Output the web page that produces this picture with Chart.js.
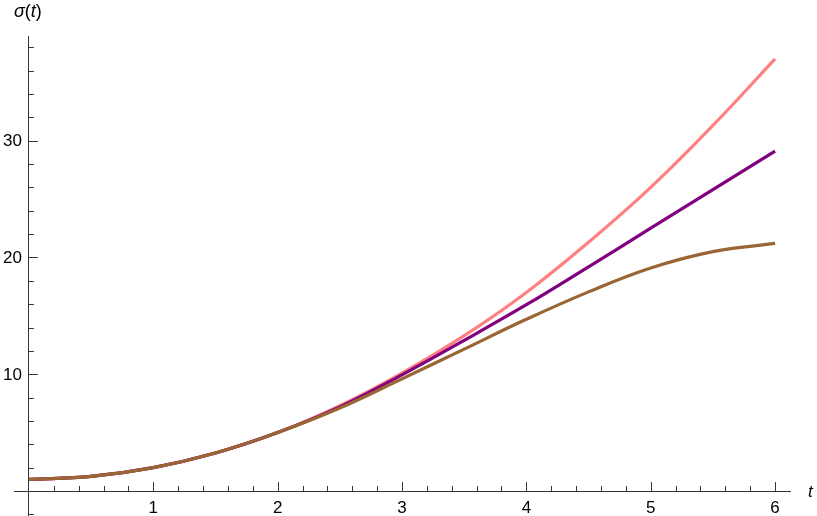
<!DOCTYPE html>
<html><head><meta charset="utf-8">
<script src="https://cdn.jsdelivr.net/npm/chart.js@4"></script>
<style>html,body{margin:0;padding:0;background:#fff}#wrap{width:817px;height:516px;position:relative}</style>
</head><body><div id="wrap"><canvas id="c" width="817" height="516"></canvas></div>
<script>
// ---- data ----
const tValues      = [0, 0.5, 1, 1.5, 2, 2.5, 3, 3.5, 4, 4.5, 5, 5.5, 6];
const sigmaPink    = [1, 1.25, 2, 3.25, 5, 7.3, 10.1, 13.3, 17.0, 21.3, 26.0, 31.3, 37.0];
const sigmaPurple  = [1, 1.25, 2, 3.25, 5, 7.2, 9.95, 12.9, 15.95, 19.2, 22.5, 25.8, 29.1];
const sigmaBrown   = [1, 1.25, 2, 3.25, 5, 7.1, 9.6, 12.15, 14.7, 17.05, 19.1, 20.5, 21.2];
const xTickLabels  = [1, 2, 3, 4, 5, 6];
const yTickLabels  = [10, 20, 30];
const xMinorStep = 0.2;
const yMinorStep = 2;
const xAxisTitle = 't';

const pts = arr => tValues.map((t, i) => ({x: t, y: arr[i]}));

const axisDecor = {
  id: 'axisDecor',
  afterDraw(chart) {
    const {ctx, scales: {x, y}} = chart;
    const x0 = x.getPixelForValue(0), y0 = y.getPixelForValue(0);
    ctx.save();
    ctx.strokeStyle = '#3a3a3a';
    ctx.lineWidth = 1;
    // x ticks (inward, upward)
    for (let k = 1; k * xMinorStep <= x.max + 1e-9; k++) {
      const v = k * xMinorStep;
      const major = Math.abs(v - Math.round(v)) < 1e-6;
      const px = Math.round(x.getPixelForValue(v)) + 0.5;
      ctx.beginPath(); ctx.moveTo(px, y0); ctx.lineTo(px, y0 - (major ? 9 : 5)); ctx.stroke();
    }
    // y ticks (inward, rightward)
    for (let k = Math.ceil(y.min / yMinorStep); k * yMinorStep <= y.max; k++) {
      const v = k * yMinorStep;
      if (v === 0) continue;
      const major = v % 10 === 0;
      const py = Math.round(y.getPixelForValue(v)) + 0.5;
      ctx.beginPath(); ctx.moveTo(x0, py); ctx.lineTo(x0 + (major ? 9 : 5), py); ctx.stroke();
    }
    // tick labels from the scales' ticks
    ctx.fillStyle = '#000';
    ctx.font = '17px "Liberation Sans"';
    ctx.textAlign = 'center';
    ctx.textBaseline = 'alphabetic';
    x.ticks.forEach(t => ctx.fillText(String(t.value), x.getPixelForValue(t.value), y0 + 22));
    ctx.textAlign = 'right';
    ctx.textBaseline = 'middle';
    y.ticks.forEach(t => ctx.fillText(String(t.value), x0 - 7, y.getPixelForValue(t.value) + 1));
    // axis titles
    ctx.textBaseline = 'alphabetic';
    ctx.textAlign = 'left';
    ctx.font = 'italic 17px "Liberation Sans"';
    ctx.fillText(xAxisTitle, 808, 497);
    let cx = 14;
    const parts = [['σ', true], ['(', false], ['t', true], [')', false]];
    for (const [s, it] of parts) {
      ctx.font = (it ? 'italic ' : '') + '18px "Liberation Sans"';
      ctx.fillText(s, cx, 17);
      cx += ctx.measureText(s).width;
    }
    ctx.restore();
  }
};

new Chart(document.getElementById('c'), {
  type: 'line',
  data: {
    datasets: [
      {data: pts(sigmaBrown), borderColor: '#996633', borderWidth: 3.2, pointRadius: 0, tension: 0.4},
      {data: pts(sigmaPurple), borderColor: '#800080', borderWidth: 3.2, pointRadius: 0, tension: 0.4},
      {data: pts(sigmaPink), borderColor: '#FF8080', borderWidth: 3.2, pointRadius: 0, tension: 0.4}
    ]
  },
  options: {
    responsive: false, animation: false, devicePixelRatio: 1,
    layout: {padding: {left: 14, right: 27, top: 36, bottom: 0}},
    plugins: {legend: {display: false}, tooltip: {enabled: false}},
    scales: {
      x: {
        type: 'linear', min: -0.12, max: 6.12, position: {y: 0},
        grid: {display: false, drawTicks: false},
        border: {display: true, color: '#333', width: 1},
        ticks: {display: false, includeBounds: false},
        afterBuildTicks: s => { s.ticks = xTickLabels.map(v => ({value: v})); }
      },
      y: {
        type: 'linear', min: -2.14, max: 38.96, position: {x: 0},
        grid: {display: false, drawTicks: false},
        border: {display: true, color: '#333', width: 1},
        ticks: {display: false, includeBounds: false},
        afterBuildTicks: s => { s.ticks = yTickLabels.map(v => ({value: v})); }
      }
    }
  },
  plugins: [axisDecor]
});
</script>
</body></html>
